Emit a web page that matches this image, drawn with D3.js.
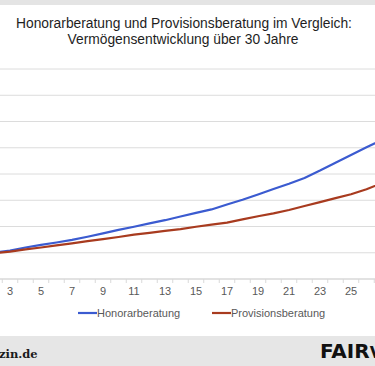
<!DOCTYPE html>
<html>
<head>
<meta charset="utf-8">
<script src="https://cdn.jsdelivr.net/npm/d3@7"></script>
<style>
  body { margin: 0; background: #fff; }
  svg { display: block; font-family: "Liberation Sans", Arial, sans-serif; }
</style>
</head>
<body>
<div id="chart"></div>
<script>
// years on the category axis
const years = d3.range(1, 31);
// labels that are visible in the (cropped) picture
const yearLabels = [3, 5, 7, 9, 11, 13, 15, 17, 19, 21, 23, 25];

// Vermögen in Euro (years 1..27, the rest is cut off)
const honorar = [46000, 50500, 54000, 60000, 65000, 69500, 74500, 80500, 87000, 93500,
  99500, 106000, 112000, 119000, 126000, 132500, 142000, 151000, 161000, 171500,
  181500, 192500, 206500, 221500, 236000, 251000, 265000];
const provision = [46500, 49000, 52000, 56500, 60000, 64000, 68000, 72000, 76000, 80000,
  84500, 88000, 91500, 95000, 99500, 103500, 107500, 113500, 119500, 125000,
  131500, 139000, 146500, 154000, 161500, 171000, 182500];

const yTicks = d3.range(0, 400001, 50000);

const series = [
  { name: "Honorarberatung", values: honorar, color: "#3b5bd0" },
  { name: "Provisionsberatung", values: provision, color: "#a83b1f" }
];

const width = 375;
const height = 366;

const svg = d3.select("#chart")
  .append("svg")
  .attr("width", width)
  .attr("height", height);

// grey bands top and bottom
svg.append("rect").attr("x", 0).attr("y", 0).attr("width", width).attr("height", 5).attr("fill", "#e4e4e4");
svg.append("rect").attr("x", 0).attr("y", 336).attr("width", width).attr("height", 30).attr("fill", "#e6e6e6");

// title
const title = svg.append("text")
  .attr("text-anchor", "middle")
  .attr("fill", "#1e1e1e")
  .style("font-size", "13.8px");
title.append("tspan").attr("x", 184).attr("y", 28).text("Honorarberatung und Provisionsberatung im Vergleich:");
title.append("tspan").attr("x", 183).attr("y", 44).text("Vermögensentwicklung über 30 Jahre");

// scales: the picture is a crop, year 3 sits at x=10, one year = 15.5px
const step = 15.5;
const x = d3.scaleBand()
  .domain(years)
  .range([10 - 2.5 * step, 10 - 2.5 * step + years.length * step]);

const y = d3.scaleLinear()
  .domain([0, 400000])
  .range([279, 69]);

// gridlines
svg.append("g")
  .selectAll("line")
  .data(yTicks.slice(1))
  .enter()
  .append("line")
  .attr("x1", 0)
  .attr("x2", width)
  .attr("y1", d => y(d))
  .attr("y2", d => y(d))
  .attr("stroke", "#dcdcdc")
  .attr("stroke-width", 1);

// x axis
const xAxis = svg.append("g")
  .attr("transform", `translate(0,${y(0)})`)
  .call(d3.axisBottom(x).tickValues(yearLabels).tickSize(0).tickPadding(8));
xAxis.select(".domain").remove();
xAxis.selectAll("text")
  .attr("fill", "#595959")
  .style("font-size", "11px")
  .style("font-family", "Liberation Sans, Arial, sans-serif");

svg.append("line")
  .attr("x1", 0).attr("x2", width)
  .attr("y1", y(0)).attr("y2", y(0))
  .attr("stroke", "#d9d9d9")
  .attr("stroke-width", 1.5);

// tick marks between categories
svg.append("g")
  .selectAll("line")
  .data(years)
  .enter()
  .append("line")
  .attr("x1", d => x(d))
  .attr("x2", d => x(d))
  .attr("y1", y(0))
  .attr("y2", y(0) + 4)
  .attr("stroke", "#d9d9d9");

// lines
const line = d3.line()
  .x((d, i) => x(years[i]) + x.bandwidth() / 2)
  .y(d => y(d));

svg.selectAll(".series")
  .data(series)
  .enter()
  .append("path")
  .attr("class", "series")
  .attr("d", d => line(d.values))
  .attr("fill", "none")
  .attr("stroke", d => d.color)
  .attr("stroke-width", 2.2)
  .attr("stroke-linejoin", "round");

// legend
const legendX = [78, 212];
const legend = svg.selectAll(".legend")
  .data(series)
  .enter()
  .append("g")
  .attr("class", "legend")
  .attr("transform", (d, i) => `translate(${legendX[i]},313)`);

legend.append("line")
  .attr("x1", 0).attr("x2", 19)
  .attr("stroke", d => d.color)
  .attr("stroke-width", 2.2);

legend.append("text")
  .attr("x", 19)
  .attr("y", 4)
  .attr("fill", "#595959")
  .style("font-size", "11px")
  .text(d => d.name);

// footer (cropped source / logo)
svg.append("text")
  .attr("x", -1)
  .attr("y", 358)
  .attr("fill", "#1a1a1a")
  .style("font-family", "DejaVu Serif, serif")
  .style("font-size", "11.5px")
  .style("font-weight", "600")
  .text("zin.de");

const logo = svg.append("text")
  .attr("x", 320)
  .attr("y", 358)
  .attr("fill", "#111")
  .style("font-family", "DejaVu Sans, sans-serif")
  .style("font-weight", "bold")
  .style("font-size", "20px");
logo.append("tspan").text("FAIR");
logo.append("tspan").style("font-size", "16px").text("V");
</script>
</body>
</html>
